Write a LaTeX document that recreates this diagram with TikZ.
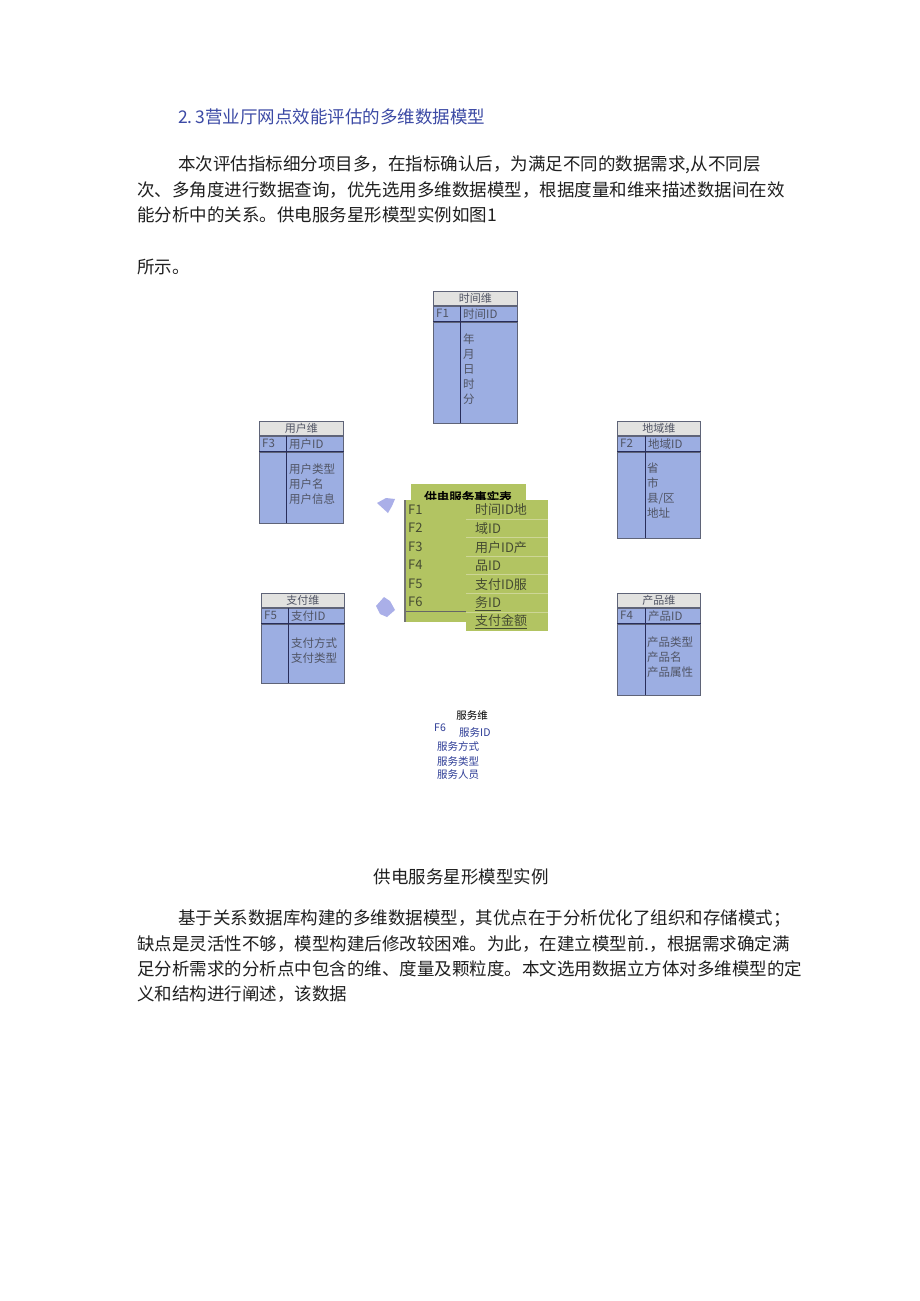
\documentclass[tikz,border=0pt]{standalone}
\usepackage{fontspec}
\setmainfont{Noto Sans CJK SC}
\newfontfamily\cjkb{Noto Sans CJK SC}[FakeBold=2.5]
\usetikzlibrary{positioning}
\definecolor{tblue}{RGB}{156,174,226}
\definecolor{tgray}{RGB}{226,226,224}
\definecolor{tline}{RGB}{95,100,120}
\definecolor{tnavy}{RGB}{40,45,90}
\definecolor{ttext}{RGB}{80,84,100}
\definecolor{fgreen}{RGB}{178,196,98}
\definecolor{fline}{RGB}{205,214,150}
\definecolor{ftext}{RGB}{70,76,50}
\definecolor{hblue}{RGB}{60,74,165}
\definecolor{sblue}{RGB}{45,60,150}
\definecolor{blob}{RGB}{170,175,232}
\tikzset{
  body/.style={font=\fontsize{17.5}{20}\selectfont, text=black!88, anchor=west, inner sep=0pt},
  tcell/.style={draw=tline, line width=0.8pt, anchor=north west, inner sep=0pt},
  ttxt/.style={font=\fontsize{11.5}{15}\selectfont, text=ttext, anchor=west, inner sep=0pt},
  tlist/.style={font=\fontsize{11.5}{15}\selectfont, text=ttext, anchor=north west, inner sep=0pt, align=left},
  ftxt/.style={font=\fontsize{13}{15}\selectfont, text=ftext, anchor=west, inner sep=0pt},
  stxt/.style={font=\fontsize{10.5}{12}\selectfont, text=sblue, anchor=west, inner sep=0pt},
}
% name, x, y, width, height, divider offset, title, F, ID
\newcommand{\dimtable}[9]{%
  \node[tcell, fill=tgray, minimum width=#4pt, minimum height=14pt] (#1h) at (#2,#3) {};
  \node[tcell, fill=tblue, minimum width=#4pt, minimum height=15pt, below=0pt of #1h.south west, anchor=north west] (#1i) {};
  \node[tcell, fill=tblue, minimum width=#4pt, minimum height=#5pt-31pt, below=0pt of #1i.south west, anchor=north west] (#1b) {};
  \draw[tnavy, line width=1.4pt] (#1i.south west) -- (#1i.south east);
  \coordinate (#1d) at ([xshift=#6pt]#1i.north west);
  \draw[tnavy, line width=1pt] (#1d) -- (#1d |- #1b.south);
  \node[font=\fontsize{11}{12}\selectfont, text=ttext, inner sep=0pt] (#1t) at (#1h) {#7};
  \node[ttxt] (#1f) at ([xshift=3pt]#1i.west) {#8};
  \node[ttxt] (#1k) at ([xshift=#6pt+3pt]#1i.west) {#9};
}
\begin{document}
\begin{tikzpicture}[x=1pt,y=-1pt]
\useasboundingbox[fill=white] (0,0) rectangle (920,1301);

% heading and first paragraph
\node[body, text=hblue] (head) at (178,117) {2.\,3营业厅网点效能评估的多维数据模型};
\node[body] (p1a) at (178,165) {本次评估指标细分项目多，在指标确认后，为满足不同的数据需求,从不同层};
\node[body] (p1b) at (137,190) {次、多角度进行数据查询，优先选用多维数据模型，根据度量和维来描述数据间在效};
\node[body] (p1c) at (137,215) {能分析中的关系。供电服务星形模型实例如图1};
\node[body] (p1d) at (137,267) {所示。};

% dimension tables
\dimtable{time}{433}{291}{84}{132}{27}{时间维}{F1}{时间ID}
\node[tlist] (timel) at (463,334) {年\\月\\日\\时\\分};
\dimtable{user}{259}{421}{84}{102}{27}{用户维}{F3}{用户ID}
\node[tlist] (userl) at (289,464) {用户类型\\用户名\\用户信息};
\dimtable{area}{617}{421}{83}{117}{28}{地域维}{F2}{地域ID}
\node[tlist] (areal) at (647,463) {省\\市\\县/区\\地址};
\dimtable{pay}{261}{593}{83}{90}{27}{支付维}{F5}{支付ID}
\node[tlist] (payl) at (291,638) {支付方式\\支付类型};
\dimtable{prod}{617}{593}{83}{102}{28}{产品维}{F4}{产品ID}
\node[tlist] (prodl) at (647,637) {产品类型\\产品名\\产品属性};

% fact table
\node[fill=fgreen, minimum width=115pt, minimum height=18pt, anchor=north west, inner sep=0pt] (facth) at (411,484) {};
\node[font=\cjkb\fontsize{12.5}{14}\selectfont, text=black, inner sep=0pt] (factt) at (468,497) {供电服务事实表};
\node[fill=fgreen, minimum width=61pt, minimum height=122pt, anchor=north west, inner sep=0pt] (factl) at (405,500) {};
\node[fill=fgreen, minimum width=82pt, minimum height=131pt, anchor=north west, inner sep=0pt] (factr) at (466,500) {};
\draw[black!55, line width=1.6pt] (factl.north west) -- (factl.south west);
\foreach \yy in {519,537,556,574,593,612} {
  \draw[fline, line width=0.8pt] (466,\yy) -- (548,\yy);
}
\draw[black!60, line width=1pt] (406,611) -- (466,611);
\node[ftxt] (f1) at (408,510) {F1};
\node[ftxt] (f2) at (408,528) {F2};
\node[ftxt] (f3) at (408,547) {F3};
\node[ftxt] (f4) at (408,565) {F4};
\node[ftxt] (f5) at (408,584) {F5};
\node[ftxt] (f6) at (408,602) {F6};
\node[ftxt] (r1) at (475,510) {时间ID地};
\node[ftxt] (r2) at (475,529) {域ID};
\node[ftxt] (r3) at (475,548) {用户ID产};
\node[ftxt] (r4) at (475,566) {品ID};
\node[ftxt] (r5) at (475,585) {支付ID服};
\node[ftxt] (r6) at (475,604) {\underline{务ID}};
\node[ftxt] (r7) at (475,622) {\underline{支付金额}};

% arrow-head remnants
\fill[blob] (377,503) -- (386,498) -- (395,499) -- (392,506) -- (388,513) -- cycle;
\fill[blob] (376,606) -- (384,597) -- (390,601) -- (395,610) -- (387,617) -- (380,614) -- cycle;

% service dimension (plain text)
\node[font=\fontsize{10.5}{12}\selectfont, text=black, inner sep=0pt] (svt) at (472,716) {服务维};
\node[stxt] (svf) at (434,728) {F6};
\node[stxt] (svi) at (459,732) {服务ID};
\node[stxt] (sv1) at (437,746) {服务方式};
\node[stxt] (sv2) at (437,761) {服务类型};
\node[stxt] (sv3) at (437,775) {服务人员};

% caption and second paragraph
\node[body, anchor=center] (cap) at (461,877) {供电服务星形模型实例};
\node[body] (p2a) at (178,919) {基于关系数据库构建的多维数据模型，其优点在于分析优化了组织和存储模式；};
\node[body] (p2b) at (137,944) {缺点是灵活性不够，模型构建后修改较困难。为此，在建立模型前.，根据需求确定满};
\node[body] (p2c) at (137,969) {足分析需求的分析点中包含的维、度量及颗粒度。本文选用数据立方体对多维模型的定};
\node[body] (p2d) at (137,994) {义和结构进行阐述，该数据};
\end{tikzpicture}
\end{document}
